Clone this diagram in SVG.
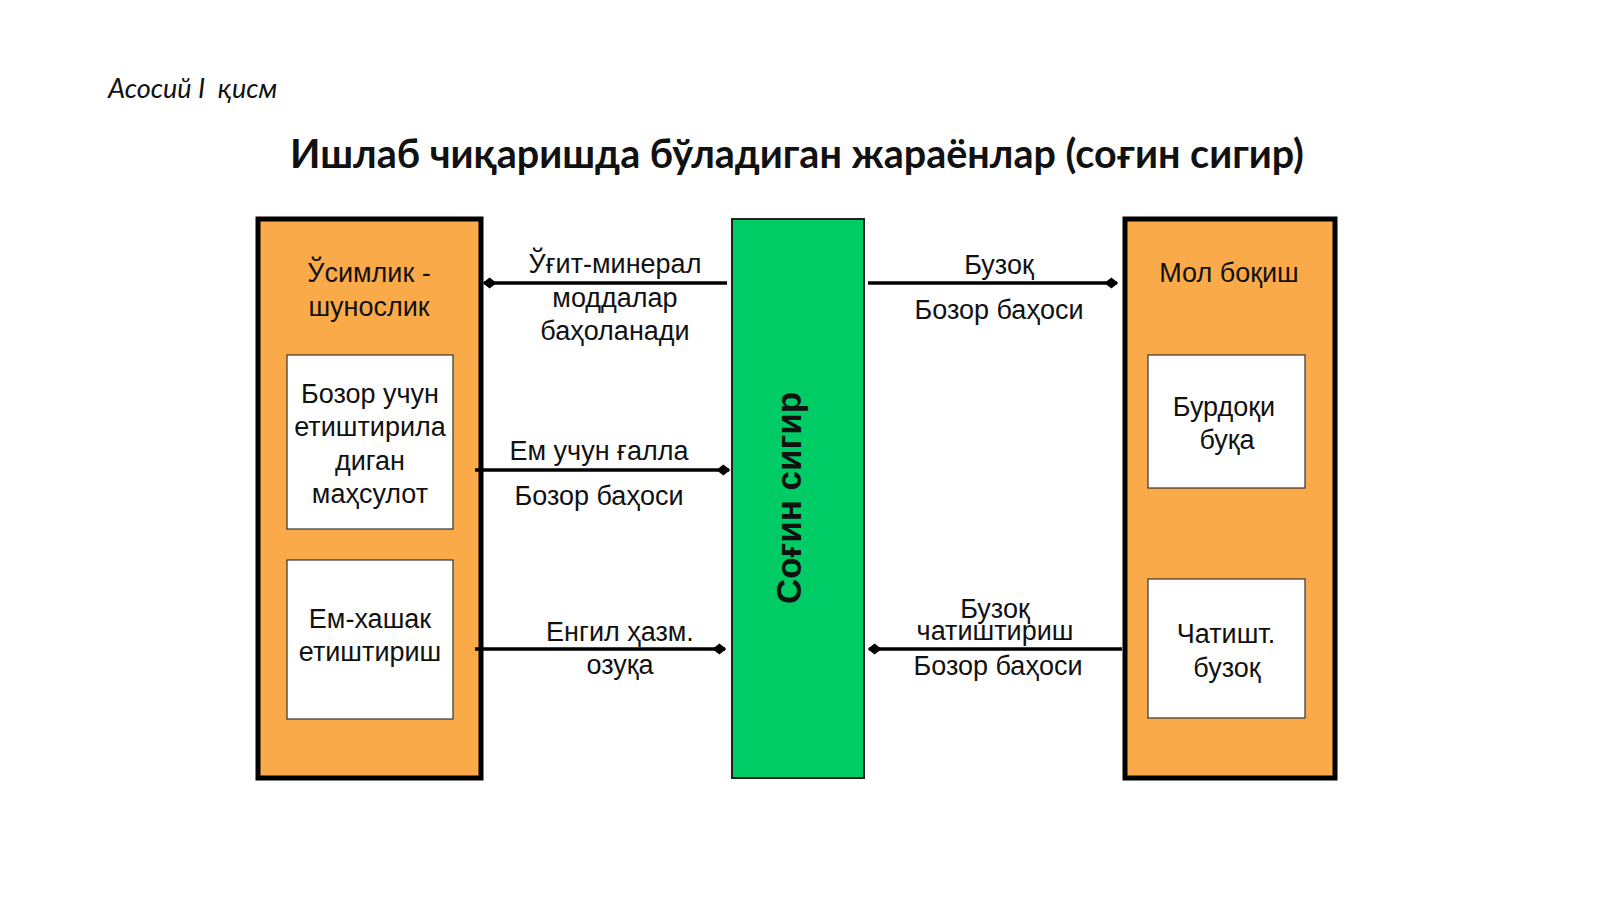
<svg xmlns="http://www.w3.org/2000/svg" width="1600" height="899" viewBox="0 0 1600 899">
<style>
.t{font-family:"Liberation Sans",Arial,sans-serif;font-size:27px;fill:#111;text-anchor:middle}
.ob{fill:#fbaa4a;stroke:#000;stroke-width:5}
.wb{fill:#fff;stroke:#333;stroke-width:1.2}
.ln{stroke:#000;stroke-width:3.5;fill:none}
</style>
<defs>
<marker id="a" viewBox="0 0 10 10" refX="9" refY="5" markerWidth="4" markerHeight="4" orient="auto-start-reverse"><path d="M0,5 L5,1 L10,5 L5,9Z" fill="#000"/></marker>
</defs>
<rect width="1600" height="899" fill="#fff"/>
<text x="108" y="98" xml:space="preserve" font-family="Lato,'Open Sans',sans-serif" font-style="italic" font-size="27" fill="#111">Асосий I  қисм</text>
<text x="797" y="168" font-family="Lato,'Open Sans',sans-serif" font-weight="bold" font-size="39.5" fill="#111" text-anchor="middle">Ишлаб чиқаришда бўладиган жараёнлар (соғин сигир)</text>
<g id="left">
<rect class="ob" x="258" y="219" width="223" height="559"/>
<text class="t" x="369" y="282">Ўсимлик -</text>
<text class="t" x="369" y="316">шунослик</text>
</g>
<g id="left1">
<rect class="wb" x="287" y="355" width="166" height="174"/>
<text class="t" x="370" y="403">Бозор учун</text>
<text class="t" x="370" y="436">етиштирила</text>
<text class="t" x="370" y="470">диган</text>
<text class="t" x="370" y="503">маҳсулот</text>
</g>
<g id="left2">
<rect class="wb" x="287" y="560" width="166" height="159"/>
<text class="t" x="370" y="628">Ем-хашак</text>
<text class="t" x="370" y="661">етиштириш</text>
</g>
<g id="center">
<rect x="732" y="219" width="132" height="559" fill="#00cc66" stroke="#222" stroke-width="2"/>
<text x="801" y="498" transform="rotate(-90 801 498)" font-family="'Liberation Sans',Arial,sans-serif" font-weight="bold" font-size="35" fill="#111" text-anchor="middle">Соғин сигир</text>
</g>
<g id="right">
<rect class="ob" x="1125" y="219" width="210" height="559"/>
<text class="t" x="1229" y="282">Мол боқиш</text>
</g>
<g id="right1">
<rect class="wb" x="1148" y="355" width="157" height="133"/>
<text class="t" x="1224" y="416">Бурдоқи</text>
<text class="t" x="1227" y="449">буқа</text>
</g>
<g id="right2">
<rect class="wb" x="1148" y="579" width="157" height="139"/>
<text class="t" x="1226" y="643">Чатишт.</text>
<text class="t" x="1227" y="677">бузоқ</text>
</g>
<g id="connectors">
<line class="ln" x1="727" y1="283" x2="484" y2="283" marker-end="url(#a)"/>
<line class="ln" x1="868" y1="283" x2="1117" y2="283" marker-end="url(#a)"/>
<line class="ln" x1="475" y1="470" x2="729" y2="470" marker-end="url(#a)"/>
<line class="ln" x1="475" y1="649" x2="725" y2="649" marker-end="url(#a)"/>
<line class="ln" x1="1122" y1="649" x2="869" y2="649" marker-end="url(#a)"/>
<text class="t" x="615" y="273">Ўғит-минерал</text>
<text class="t" x="615" y="307">моддалар</text>
<text class="t" x="615" y="340">баҳоланади</text>
<text class="t" x="999" y="274">Бузоқ</text>
<text class="t" x="999" y="319">Бозор баҳоси</text>
<text class="t" x="599" y="460">Ем учун ғалла</text>
<text class="t" x="599" y="505">Бозор баҳоси</text>
<text class="t" x="620" y="641">Енгил ҳазм.</text>
<text class="t" x="620" y="674">озуқа</text>
<text class="t" x="995" y="618">Бузоқ</text>
<text class="t" x="995" y="640">чатиштириш</text>
<text class="t" x="998" y="675">Бозор баҳоси</text>
</g>
</svg>
